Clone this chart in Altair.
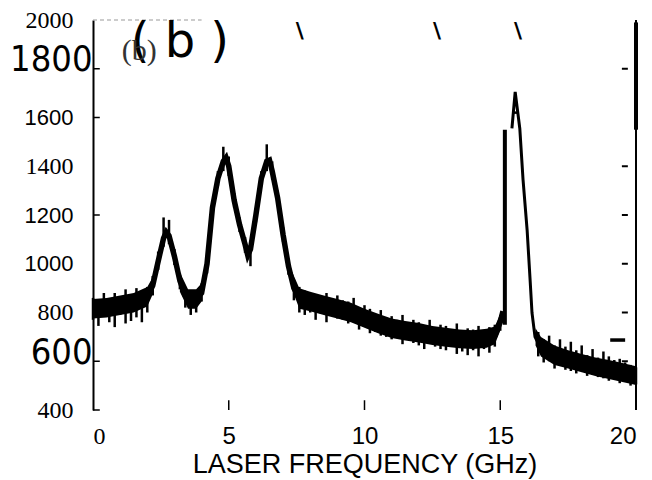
import altair as alt
import pandas as pd

# ---- data ----
# thick centre trace (segment 1: baseline + three peaks; 2: clipped apex "A" and right side; 3: apex crossbar)
trace_freq = [0.0, 0.5, 1.0, 1.5, 2.0, 2.2, 2.4, 2.6, 2.7, 2.8, 3.0, 3.2, 3.4, 3.6, 3.8, 4.0, 4.2, 4.4, 4.6, 4.8,
              4.9, 5.0, 5.2, 5.4, 5.6, 5.7, 5.8, 6.0, 6.2, 6.4, 6.5, 6.6, 6.8, 7.0, 7.2, 7.4, 7.6, 8.0, 9.0, 10.0,
              11.0, 12.0, 13.0, 14.0, 14.6, 14.8, 15.0, 15.1,
              15.43, 15.55, 15.72, 15.84, 15.99, 16.10, 16.17, 16.28, 16.46, 17.0, 18.0, 19.0, 20.0,
              15.46, 15.69]
trace_sig = [815, 820, 830, 840, 865, 910, 1010, 1105, 1130, 1115, 1030, 930, 870, 845, 855, 880, 1000, 1230, 1350, 1420,
             1435, 1400, 1260, 1160, 1080, 1035, 1060, 1200, 1350, 1420, 1425, 1380, 1270, 1120, 990, 900, 860, 845, 815, 775,
             735, 716, 698, 688, 695, 705, 760, 805,
             1555, 1705, 1555, 1344, 1138, 933, 798, 700, 660, 625, 592, 566, 540,
             1620, 1620]
trace_seg = [1] * 48 + [2] * 13 + [3] * 2
seg_width = {1: 5.5, 2: 3.0, 3: 2.5}

# thick vertical edge on the left of the big peak
edge_freq = [15.17]
edge_lo = [750]
edge_hi = [1550]

# dense core of the noisy trace (flat parts only)
core_freq = [0.0, 0.5, 1.0, 1.5, 2.0, 2.2,
             3.2, 3.5, 3.8, 4.0,
             7.3, 7.6, 8.0, 8.5, 9.0, 9.5, 10.0, 10.5, 11.0, 11.5, 12.0, 12.5, 13.0, 13.5, 14.0, 14.5, 14.8, 15.0,
             16.3, 16.5, 17.0, 17.5, 18.0, 18.5, 19.0, 19.5, 20.0]
core_lo = [775, 780, 790, 800, 825, 875,
           885, 815, 815, 845,
           905, 815, 805, 790, 775, 760, 737, 715, 695, 685, 677, 667, 659, 653, 650, 655, 670, 725,
           665, 620, 585, 570, 555, 540, 527, 515, 503]
core_hi = [855, 860, 870, 880, 905, 945,
           965, 895, 895, 920,
           975, 900, 885, 870, 855, 840, 815, 795, 775, 765, 757, 745, 737, 730, 727, 733, 743, 795,
           735, 700, 665, 645, 630, 615, 605, 593, 580]
core_seg = [1] * 6 + [2] * 4 + [3] * 18 + [4] * 9

# noise spikes (lowest / highest excursion at each sample)
spike_freq = [0.0, 0.2, 0.4, 0.6, 0.8, 1.0, 1.2, 1.4, 1.6, 1.8, 2.0, 2.2, 2.4, 2.6, 2.8, 3.0, 3.2, 3.4, 3.6, 3.8,
              4.0, 4.2, 4.4, 4.6, 4.8, 5.0, 5.2, 5.4, 5.6, 5.8, 6.0, 6.2, 6.4, 6.6, 6.8, 7.0, 7.2, 7.4, 7.6, 7.8,
              8.0, 8.2, 8.4, 8.6, 8.8, 9.0, 9.2, 9.4, 9.6, 9.8, 10.0, 10.2, 10.4, 10.6, 10.8, 11.0, 11.2, 11.4, 11.6, 11.8,
              12.0, 12.2, 12.4, 12.6, 12.8, 13.0, 13.2, 13.4, 13.6, 13.8, 14.0, 14.2, 14.4, 14.6, 14.8, 15.0,
              16.4, 16.6, 16.8, 17.0, 17.2, 17.4, 17.6, 17.8, 18.0, 18.2, 18.4, 18.6, 18.8, 19.0, 19.2, 19.4, 19.6, 19.8, 20.0]
spike_lo = [770, 745, 785, 760, 740, 790, 755, 765, 780, 760, 800, 870, 975, 1070, 1080, 995, 895, 820, 790, 800,
            845, 960, 1195, 1320, 1380, 1360, 1230, 1130, 1045, 990, 1170, 1320, 1380, 1345, 1240, 1090, 955, 850, 800, 790,
            800, 770, 795, 760, 790, 775, 770, 755, 765, 730, 745, 715, 720, 705, 700, 690, 695, 670, 690, 675,
            665, 650, 675, 660, 650, 645, 660, 630, 640, 625, 645, 620, 650, 635, 660, 725,
            620, 595, 600, 570, 590, 565, 560, 550, 565, 540, 545, 535, 530, 520, 535, 510, 515, 500, 505]
spike_hi = [860, 855, 880, 845, 880, 860, 895, 865, 900, 875, 905, 950, 1050, 1190, 1180, 1060, 960, 900, 885, 890,
            920, 1030, 1260, 1380, 1480, 1440, 1290, 1190, 1110, 1090, 1230, 1380, 1490, 1420, 1300, 1150, 1020, 935, 905, 890,
            880, 875, 860, 880, 855, 870, 850, 845, 860, 820, 830, 815, 790, 810, 780, 785, 770, 790, 755, 770,
            760, 745, 770, 735, 750, 745, 725, 755, 720, 735, 730, 745, 725, 740, 750, 790,
            720, 690, 705, 665, 690, 660, 680, 645, 665, 625, 650, 615, 640, 620, 605, 610, 595, 585, 575]

y_ticks = [400, 600, 800, 1000, 1200, 1400, 1600, 1800, 2000]
x_ticks = [0, 5, 10, 15, 20]
left_marks = [400, 600, 1200, 1600, 1800]
right_marks = [600, 800, 1000, 1200, 1400, 1800]
bottom_marks = [5, 10, 15]

trace = pd.DataFrame({"f": trace_freq, "v": trace_sig, "seg": trace_seg,
                      "w": [seg_width[s] for s in trace_seg], "i": list(range(len(trace_freq)))})
core = pd.DataFrame({"f": core_freq, "lo": core_lo, "hi": core_hi, "seg": core_seg})
spikes = pd.DataFrame({"f": spike_freq, "lo": spike_lo, "hi": spike_hi})
edge = pd.DataFrame({"f": edge_freq, "lo": edge_lo, "hi": edge_hi})

xs = alt.Scale(domain=[0, 20], nice=False, zero=False)
ys = alt.Scale(domain=[400, 2000], nice=False, zero=False)

serif_test = "datum.value == 2000 || datum.value == 1400 || datum.value == 800 || datum.value == 400"
narrow_test = "datum.value == 1800 || datum.value == 600"

x_axis = alt.Axis(
    values=x_ticks, format="d", domain=False, ticks=False, grid=False,
    labelFont={"condition": {"test": "datum.value == 0", "value": "Liberation Serif"}, "value": "Liberation Sans"},
    labelFontSize=24, labelColor="black", labelPadding=14,
    title="LASER FREQUENCY (GHz)", titleFont="Liberation Sans", titleFontSize=27,
    titleFontWeight="normal", titleColor="black", titlePadding=3,
)
y_axis = alt.Axis(
    values=y_ticks, format="d", domain=True, domainColor="black", domainWidth=2, ticks=False, grid=False,
    labelFont={"condition": [{"test": narrow_test, "value": "DejaVu Sans Condensed, Liberation Sans"},
                             {"test": serif_test, "value": "Liberation Serif"}],
               "value": "Liberation Sans"},
    labelFontSize={"condition": [{"test": narrow_test, "value": 36},
                                 {"test": serif_test, "value": 24}],
                   "value": 22},
    labelOffset={"condition": {"test": narrow_test, "value": -9}, "value": 0},
    labelPadding={"condition": {"test": narrow_test, "value": 1}, "value": 20},
    labelColor="black", title=None,
)

core_layer = alt.Chart(core).mark_area(color="black", opacity=1, interpolate="linear").encode(
    x=alt.X("f:Q", scale=xs, axis=x_axis),
    y=alt.Y("lo:Q", scale=ys, axis=y_axis),
    y2="hi:Q",
    detail="seg:N",
)

spike_layer = alt.Chart(spikes).mark_rule(color="black", strokeWidth=2.5).encode(
    x=alt.X("f:Q", scale=xs), y=alt.Y("lo:Q", scale=ys), y2="hi:Q")

line_layer = alt.Chart(trace).mark_line(color="black").encode(
    x=alt.X("f:Q", scale=xs),
    y=alt.Y("v:Q", scale=ys),
    detail="seg:N",
    strokeWidth=alt.StrokeWidth("w:Q", scale=None, legend=None),
    order="i:Q",
)

edge_layer = alt.Chart(edge).mark_rule(color="black", strokeWidth=4).encode(
    x=alt.X("f:Q", scale=xs), y=alt.Y("lo:Q", scale=ys), y2="hi:Q")

# frame and tick marks
right_frame = pd.DataFrame({"f": [20, 20], "a": [400, 1550], "b": [2000, 1990], "w": [2, 4]})
frame_layer = alt.Chart(right_frame).mark_rule(color="black").encode(
    x=alt.X("f:Q", scale=xs), y=alt.Y("a:Q", scale=ys), y2="b:Q",
    strokeWidth=alt.StrokeWidth("w:Q", scale=None, legend=None),
)

lt = pd.DataFrame({"v": left_marks, "a": [0] * len(left_marks), "b": [0.25] * len(left_marks)})
left_layer = alt.Chart(lt).mark_rule(color="black", strokeWidth=1.5).encode(
    x=alt.X("a:Q", scale=xs), x2="b:Q", y=alt.Y("v:Q", scale=ys))

rt = pd.DataFrame({"v": right_marks, "a": [19.48] * len(right_marks), "b": [19.7] * len(right_marks)})
right_layer = alt.Chart(rt).mark_rule(color="black", strokeWidth=2).encode(
    x=alt.X("a:Q", scale=xs), x2="b:Q", y=alt.Y("v:Q", scale=ys))

dash = pd.DataFrame({"v": [687], "a": [19.05], "b": [19.6]})
dash_layer = alt.Chart(dash).mark_rule(color="black", strokeWidth=3.5).encode(
    x=alt.X("a:Q", scale=xs), x2="b:Q", y=alt.Y("v:Q", scale=ys))

bt = pd.DataFrame({"f": bottom_marks, "a": [400] * 3, "b": [440] * 3})
bottom_layer = alt.Chart(bt).mark_rule(color="black", strokeWidth=1.5).encode(
    x=alt.X("f:Q", scale=xs), y=alt.Y("a:Q", scale=ys), y2="b:Q")

topline = pd.DataFrame({"a": [0], "b": [4], "v": [2000]})
top_layer = alt.Chart(topline).mark_rule(color="#999999", strokeWidth=1, strokeDash=[4, 3]).encode(
    x=alt.X("a:Q", scale=xs), x2="b:Q", y=alt.Y("v:Q", scale=ys))

# panel labels and scan marks
big = pd.DataFrame({"f": [3.2], "v": [1906], "t": ["( b )"]})
big_layer = alt.Chart(big).mark_text(font="DejaVu Sans", fontSize=48, color="black").encode(
    x=alt.X("f:Q", scale=xs), y=alt.Y("v:Q", scale=ys), text="t:N")

small = pd.DataFrame({"f": [1.7], "v": [1873], "t": ["(b)"]})
small_layer = alt.Chart(small).mark_text(font="Liberation Serif", fontSize=30, color="#333333").encode(
    x=alt.X("f:Q", scale=xs), y=alt.Y("v:Q", scale=ys), text="t:N")

slashes = pd.DataFrame({"f": [7.62, 12.67, 15.65], "v": [1955, 1955, 1955], "t": ["\\", "\\", "\\"]})
slash_layer = alt.Chart(slashes).mark_text(font="DejaVu Sans", fontSize=22, fontWeight="bold", color="black").encode(
    x=alt.X("f:Q", scale=xs), y=alt.Y("v:Q", scale=ys), text="t:N")

chart = alt.layer(
    core_layer, spike_layer, line_layer, edge_layer, frame_layer, left_layer, right_layer, dash_layer,
    bottom_layer, top_layer, big_layer, small_layer, slash_layer,
).properties(
    width=543, height=390,
    autosize=alt.AutoSizeParams(type="none"),
    padding={"left": 93, "top": 20, "right": 16, "bottom": 70},
    background="white",
).configure_view(stroke=None)

chart.save("out.html", embed_options={"renderer": "svg", "actions": False})
